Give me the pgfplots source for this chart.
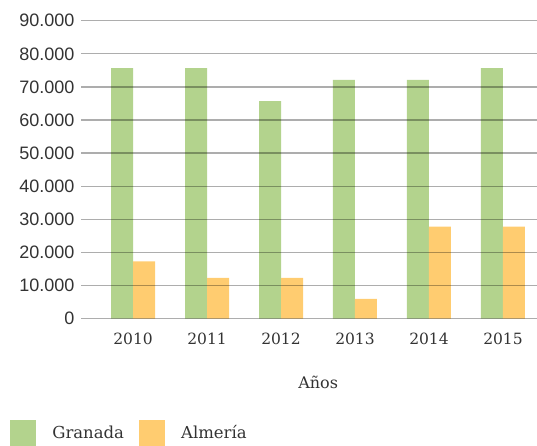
\documentclass[border=0pt]{standalone}
\usepackage{fontspec}
\setmainfont{DejaVu Serif}
\newfontfamily\ysans{Liberation Sans}
\usepackage{pgfplots}
\pgfplotsset{compat=1.18}
\definecolor{granada}{HTML}{B3D38D}
\definecolor{almeria}{HTML}{FFCC70}
\definecolor{txt}{HTML}{333333}
\begin{document}
\begin{tikzpicture}
\begin{axis}[
    scale only axis,
    width=456pt, height=298pt,
    ybar=0pt, bar width=22pt,
    xmin=-0.703, xmax=5.46,
    ymin=0, ymax=90000,
    xtick=data,
    xticklabels={2010,2011,2012,2013,2014,2015},
    ytick={0,10000,...,90000},
    scaled y ticks=false,
    /pgf/number format/.cd, 1000 sep={.}, assume math mode=true, /pgfplots/.cd,
    axis line style={draw=none},
    axis on top,
    major tick length=0pt,
    ymajorgrids,
    grid style={black, opacity=0.32, line width=1.3pt},
    yticklabel style={font=\ysans\fontsize{18}{21}\selectfont, text=txt, xshift=-3pt},
    xticklabel style={font=\fontsize{15.5}{18}\selectfont, text=txt, yshift=-11pt},
    xlabel={Años},
    xlabel style={font=\fontsize{16}{19}\selectfont, text=txt, at={(rel axis cs:0.52,0)}, anchor=center, yshift=-64pt},
    legend columns=2,
    legend style={draw=none, fill=none, at={(rel axis cs:-0.162,-0.384)}, anchor=west,
        font=\fontsize{16.5}{19}\selectfont, text=txt,
        /tikz/every even column/.append style={column sep=13pt}},
    legend image code/.code={\fill[#1] (0pt,-13pt) rectangle (26pt,13pt); \path (40pt,0pt);},
]
\addplot[fill=granada, draw=none] coordinates {(0,75700) (1,75700) (2,65700) (3,72100) (4,72100) (5,75700)};
\addlegendentry{Granada}
\addplot[fill=almeria, draw=none] coordinates {(0,17300) (1,12300) (2,12300) (3,6000) (4,27800) (5,27800)};
\addlegendentry{Almería}
\coordinate (o) at (rel axis cs:0,0);
\end{axis}
\pgfresetboundingbox
\path[use as bounding box] ([shift={(-81pt,-127.3pt)}]o) rectangle ++(537pt,446pt);
\end{tikzpicture}
\end{document}
